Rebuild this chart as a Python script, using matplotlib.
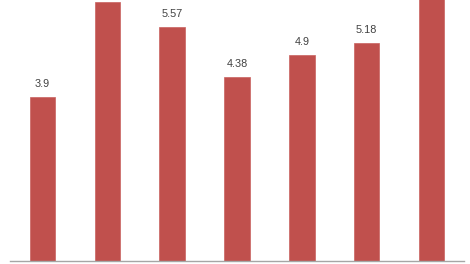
import matplotlib
matplotlib.use("Agg")
import matplotlib.pyplot as plt

# values (bars 2 and 7 run past the top edge,
# so their labels are not visible in the picture)
categories = ["A", "B", "C", "D", "E", "F", "G"]
values = [3.9, 6.15, 5.57, 4.38, 4.9, 5.18, 6.4]
labels = ["3.9", "", "5.57", "4.38", "4.9", "5.18", ""]

fig = plt.figure(figsize=(4.7, 2.64), dpi=100, facecolor="white")
ax = fig.add_axes([10 / 470, 3.3 / 264, 454 / 470, 260.7 / 264])

x = range(len(categories))
ax.bar(x, values, width=0.39, color="#C0504D", edgecolor="#C9625F", linewidth=0.5)

for xi, v, lab in zip(x, values, labels):
    if lab:
        ax.annotate(lab, (xi, v), xytext=(0, 5.5), textcoords="offset points",
                    ha="center", va="bottom", fontsize=7.8,
                    family="Liberation Sans", color="#404040")

ax.set_xlim(-0.5, len(categories) - 0.5)
ax.set_ylim(0, 6.207)

# only the gray baseline is shown
for side in ["top", "left", "right"]:
    ax.spines[side].set_visible(False)
ax.spines["bottom"].set_color("#A6A6A6")
ax.spines["bottom"].set_linewidth(1)
ax.set_xticks([])
ax.set_yticks([])

fig.savefig("out.png", dpi=100)
